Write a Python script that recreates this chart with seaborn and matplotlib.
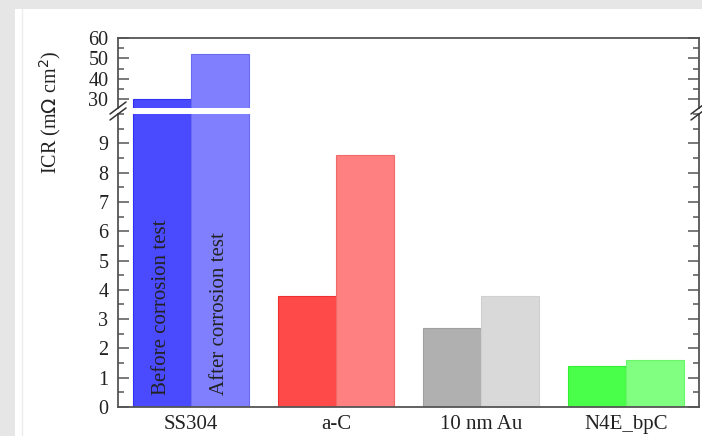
import matplotlib
matplotlib.use("Agg")
import matplotlib.pyplot as plt
import pandas as pd
import seaborn as sns
from matplotlib.patches import Rectangle
from matplotlib.lines import Line2D
from matplotlib.ticker import MultipleLocator

# Data
coatings = ["SS304", "a-C", "10 nm Au", "N4E_bpC"]
before_test = [30.0, 3.8, 2.7, 1.4]
after_test = [52.0, 8.6, 3.8, 1.6]
states = ["Before corrosion test", "After corrosion test"]

before_colors = ["#4a4aff", "#ff4a4a", "#b0b0b0", "#4aff4a"]
after_colors = ["#8080ff", "#ff8080", "#d9d9d9", "#80ff80"]
before_edges = ["#3030f0", "#f03030", "#a0a0a0", "#30f030"]
after_edges = ["#6a6af5", "#f06a6a", "#d0d0d0", "#6af56a"]

df = pd.DataFrame({
    "coating": coatings * 2,
    "ICR": before_test + after_test,
    "state": [states[0]] * len(coatings) + [states[1]] * len(coatings),
})

sns.set_style("ticks")
plt.rcParams["font.family"] = ["Liberation Serif", "DejaVu Serif"]
spine_col = "#555555"
text_col = "#222222"

fig = plt.figure(figsize=(7.02, 4.36), dpi=100)
fig.patch.set_facecolor("#e6e6e6")
# white panel inside the grey frame
fig.patches.append(Rectangle((15 / 702, 0), 1, 1 - 9 / 436, transform=fig.transFigure,
                             facecolor="white", edgecolor="none", zorder=-10))
fig.lines.append(Line2D([22.5 / 702, 22.5 / 702], [0, 1 - 9 / 436], transform=fig.transFigure,
                        color="#ececec", lw=1, zorder=-9))

left, right = 118 / 702, 699 / 702
ax_top = fig.add_axes([left, 1 - 108 / 436, right - left, (108 - 38) / 436])
ax_bot = fig.add_axes([left, 1 - 407 / 436, right - left, (407 - 114) / 436])

for ax in (ax_top, ax_bot):
    sns.barplot(data=df, x="coating", y="ICR", hue="state", hue_order=states,
                order=coatings, ax=ax, width=0.8, legend=False, errorbar=None)
    for cont, cols, edges in zip(ax.containers, [before_colors, after_colors],
                                 [before_edges, after_edges]):
        for bar, c, e in zip(cont, cols, edges):
            bar.set_facecolor(c)
            bar.set_edgecolor(e)
            bar.set_linewidth(0.8)
    ax.set_xlim(-0.5, 3.5)
    ax.set_xlabel("")
    ax.set_ylabel("")
    for s in ax.spines.values():
        s.set_color(spine_col)
        s.set_linewidth(1.3)
    ax.tick_params(axis="y", which="both", direction="in", right=True,
                   color=spine_col, width=1.1, labelsize=14.5, labelcolor=text_col, pad=7)
    ax.tick_params(axis="y", which="major", length=8)
    ax.tick_params(axis="y", which="minor", length=4)

ax_top.set_ylim(25.6, 60)
ax_top.yaxis.set_minor_locator(MultipleLocator(5))
ax_top.set_yticks([30, 40, 50, 60])
ax_top.spines["bottom"].set_visible(False)
ax_top.tick_params(axis="x", bottom=False, labelbottom=False)

ax_bot.set_ylim(0, 10)
ax_bot.set_yticks(range(0, 10))
ax_bot.yaxis.set_minor_locator(MultipleLocator(0.5))
ax_bot.spines["top"].set_visible(False)
ax_bot.tick_params(axis="x", bottom=False, labelsize=15, labelcolor=text_col, pad=2.5)

# break marks on both spines
for xp in (left, right):
    for yp in (108, 114):
        x0, x1 = xp - 8 / 702, xp + 8 / 702
        y0, y1 = 1 - (yp + 6) / 436, 1 - (yp - 6) / 436
        fig.lines.append(Line2D([x0, x1], [y0, y1], transform=fig.transFigure,
                                color="#333333", lw=1.1))

# in-bar labels
ax_bot.text(-0.2, 0.4, states[0], rotation=90, ha="center", va="bottom",
            fontsize=15, color=text_col)
ax_bot.text(0.2, 0.4, states[1], rotation=90, ha="center", va="bottom",
            fontsize=15, color=text_col)

fig.text(50 / 702, 1 - 112 / 436, "ICR (m$\\Omega$ cm$^2$)", rotation=90,
         ha="center", va="center", fontsize=14.5, color=text_col)

fig.savefig("out.png", dpi=100, facecolor=fig.get_facecolor())
